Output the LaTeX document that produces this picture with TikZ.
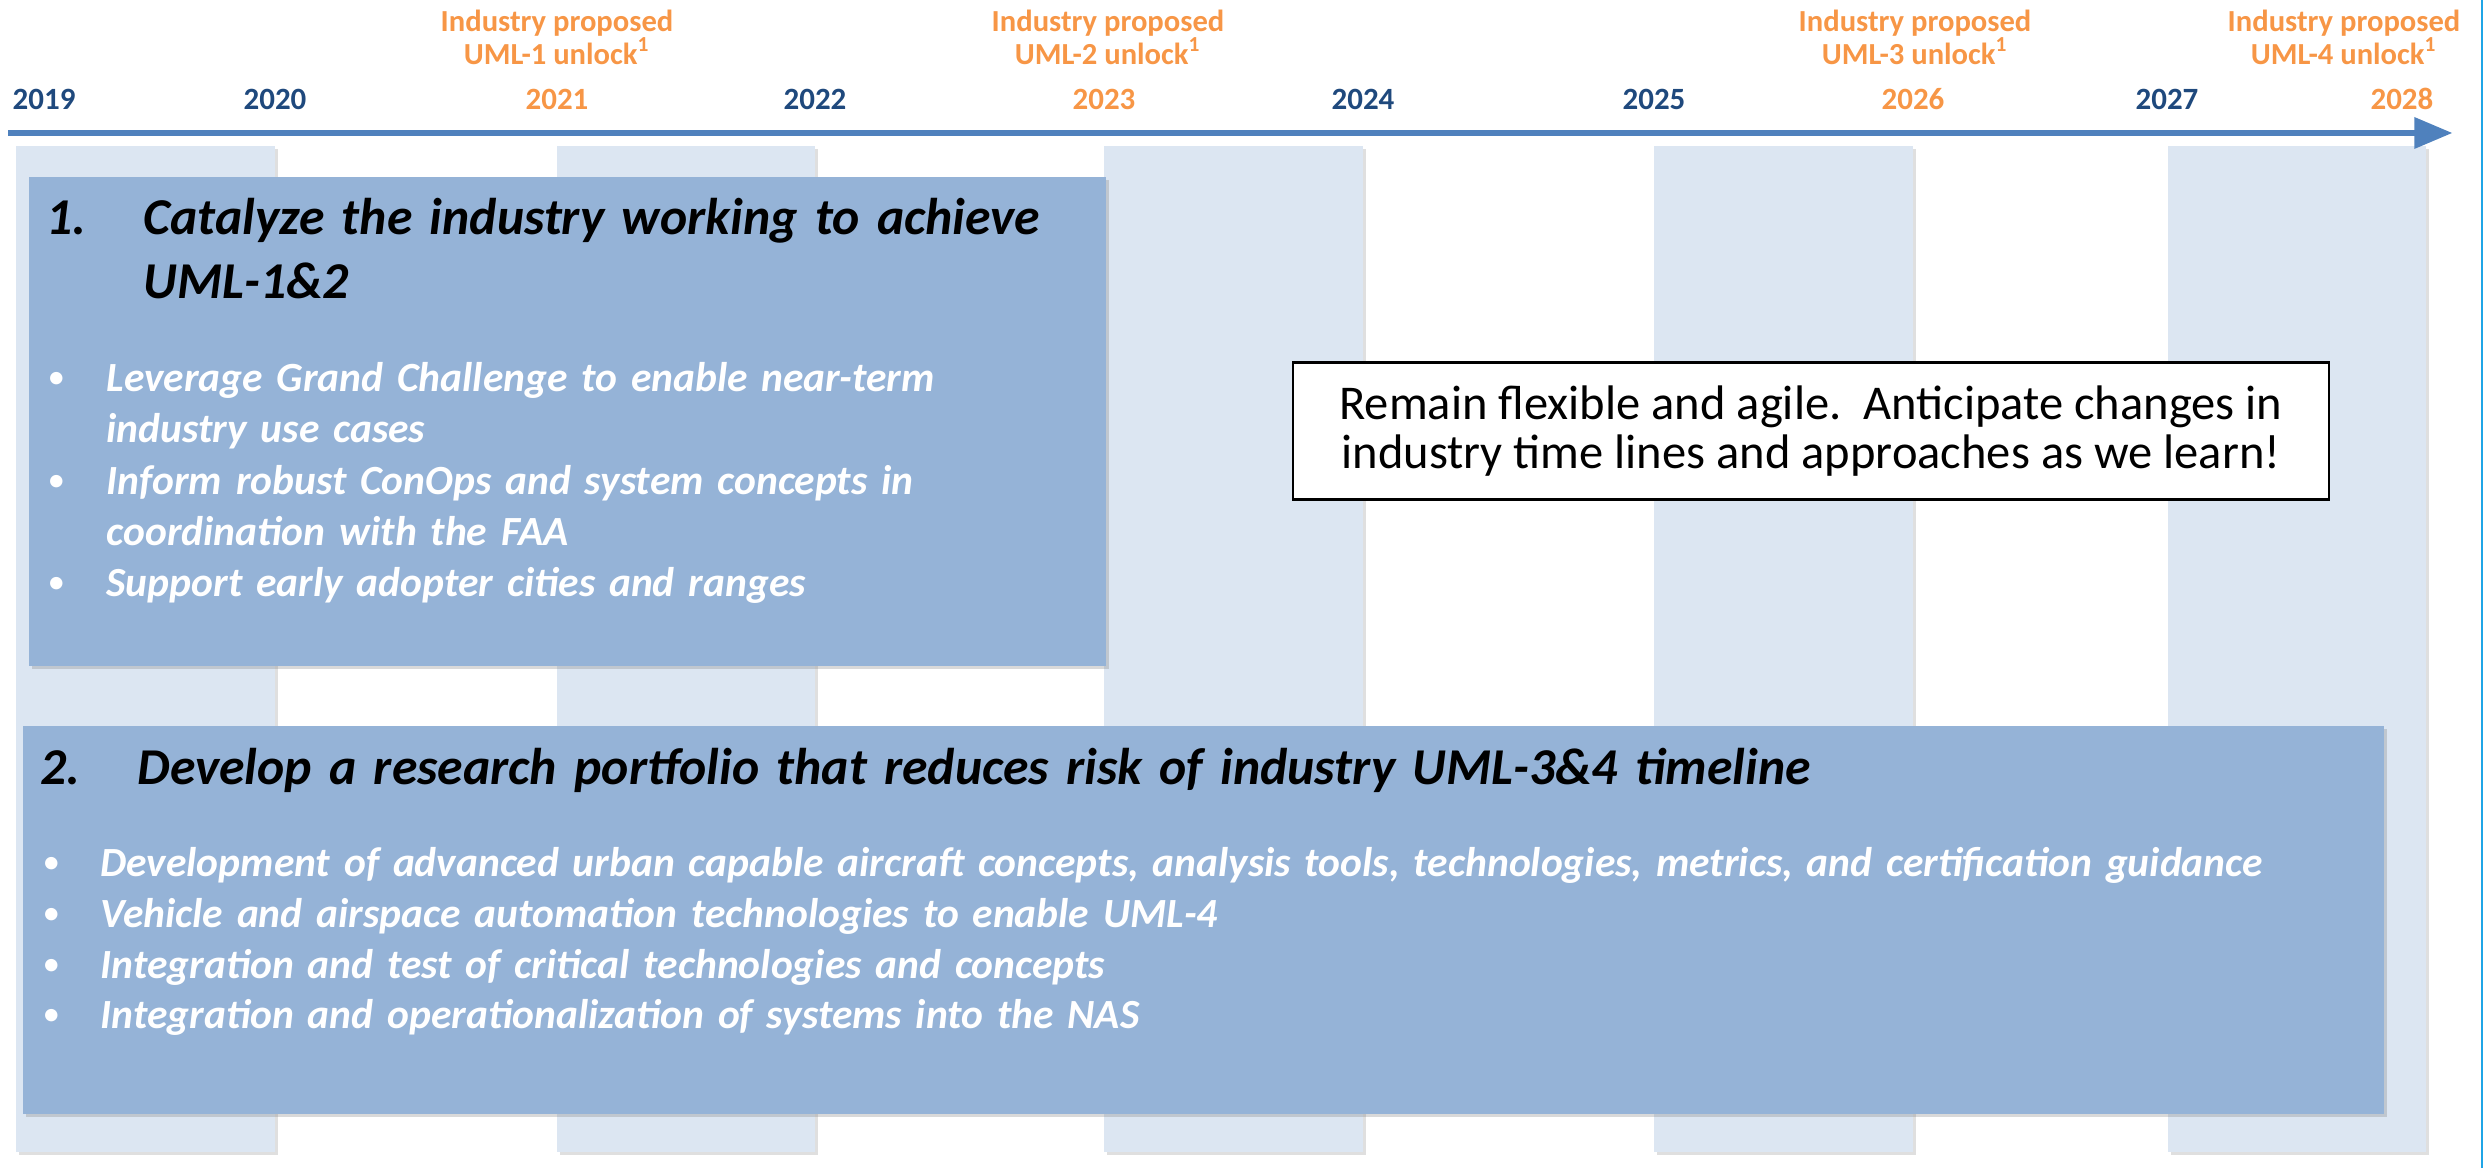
\documentclass[tikz,border=0pt]{standalone}
\usepackage{fontspec}
\setmainfont{Carlito}
\usepackage{tikz}
\usetikzlibrary{positioning}
\usetikzlibrary{arrows,shadows}
\definecolor{yearblue}{HTML}{1F497D}
\definecolor{unlockorange}{HTML}{F79646}
\definecolor{lineblue}{HTML}{4F81BD}
\definecolor{bandblue}{HTML}{DCE6F2}
\definecolor{goalblue}{HTML}{95B3D7}
\definecolor{edgecyan}{HTML}{1FA5E6}
\tikzstyle{timeline} = [line width=1.5pt,->,>=triangle 45,color=lineblue]
\tikzstyle{band} = [fill=bandblue,drop shadow={shadow xshift=0.8pt,shadow yshift=-0.8pt,opacity=0.25}]
\tikzstyle{goalbox} = [fill=goalblue,anchor=north west,inner sep=0pt,drop shadow={shadow xshift=0.8pt,shadow yshift=-0.8pt,opacity=0.3}]
\tikzstyle{notebox} = [draw=black,line width=0.6pt,fill=white,inner sep=0pt,align=center,font=\fontsize{13.8}{14}\selectfont]
\tikzstyle{yearlbl} = [anchor=base,inner sep=0pt,font=\fontsize{8.8}{10}\selectfont\bfseries]
\tikzstyle{unlocklbl} = [anchor=base,inner sep=0pt,text=unlockorange,font=\fontsize{8.7}{10}\selectfont\bfseries]
\tikzstyle{goaltitle} = [anchor=base west,inner sep=0pt,text width=22cm,align=left,font=\fontsize{14.7}{18.2}\selectfont\bfseries\itshape]
\tikzstyle{goalitem} = [anchor=base west,inner sep=0pt,text width=22cm,align=left,text=white,font=\fontsize{11.8}{14.5}\selectfont\bfseries\itshape]
\tikzstyle{dot} = [anchor=base west,inner sep=0pt,text=white,font=\fontsize{10}{12}\selectfont]

\begin{document}
\begin{tikzpicture}[x=0.01cm,y=-0.01cm]
	\useasboundingbox (0,0) rectangle (2484,1168);

	%Bands
	\path[band] (16,146) rectangle (275,1152);
	\path[band] (557,146) rectangle (815,1152);
	\path[band] (1104,146) rectangle (1363,1152);
	\path[band] (1654,146) rectangle (1913,1152);
	\path[band] (2168,146) rectangle (2426,1152);
	\draw[edgecyan,line width=0.6pt] (2482,0) -- (2482,1168);

	%Timeline
	\coordinate (tlstart) at (8,133);
	\coordinate (tlend) at (2452,133);
	\draw[timeline] (tlstart) -- (tlend);

	%Years
	\node[yearlbl,anchor=base west,text=yearblue] (y2019) at (12,110) {2019};
	\node[yearlbl,text=yearblue] (y2020) at (275,110) {2020};
	\node[yearlbl,text=unlockorange] (y2021) at (557,110) {2021};
	\node[yearlbl,text=yearblue] (y2022) at (815,110) {2022};
	\node[yearlbl,text=unlockorange] (y2023) at (1104,110) {2023};
	\node[yearlbl,text=yearblue] (y2024) at (1363,110) {2024};
	\node[yearlbl,text=yearblue] (y2025) at (1654,110) {2025};
	\node[yearlbl,text=unlockorange] (y2026) at (1913,110) {2026};
	\node[yearlbl,text=yearblue] (y2027) at (2167,110) {2027};
	\node[yearlbl,anchor=base east,text=unlockorange] (y2028) at (2434,110) {2028};

	%Unlocks
	\node[unlocklbl] (u2021) at (557,65) {UML-1 unlock\textsuperscript{1}};
	\node[unlocklbl] (ip2021) at (557,32) {Industry proposed};
	\node[unlocklbl] (u2023) at (1108,65) {UML-2 unlock\textsuperscript{1}};
	\node[unlocklbl] (ip2023) at (1108,32) {Industry proposed};
	\node[unlocklbl] (u2026) at (1915,65) {UML-3 unlock\textsuperscript{1}};
	\node[unlocklbl] (ip2026) at (1915,32) {Industry proposed};
	\node[unlocklbl] (u2028) at (2344,65) {UML-4 unlock\textsuperscript{1}};
	\node[unlocklbl] (ip2028) at (2344,32) {Industry proposed};

	%Goal 1
	\node[goalbox,minimum width=10.77cm,minimum height=4.89cm] (goal1) at (28,176) {};
	\node[goaltitle,text width=2cm] (g1num) at (46,235) {1.};
	\node[goaltitle] (g1title) at (143,235) {Catalyze the industry working to achieve\\UML-1\&2};
	\node[dot] (g1dota) at (47,389) {\textbullet};
	\node[goalitem] (g1a) at (106,392) {Leverage Grand Challenge to enable near-term\\industry use cases};
	\node[dot] (g1dotb) at (47,492) {\textbullet};
	\node[goalitem] (g1b) at (106,495) {Inform robust ConOps and system concepts in\\coordination with the FAA};
	\node[dot] (g1dotc) at (47,594) {\textbullet};
	\node[goalitem] (g1c) at (106,597) {Support early adopter cities and ranges};

	%Goal 2
	\node[goalbox,minimum width=23.60cm,minimum height=3.88cm] (goal2) at (22,725) {};
	\node[goaltitle,text width=2cm] (g2num) at (40,785) {2.};
	\node[goaltitle] (g2title) at (137,785) {Develop a research portfolio that reduces risk of industry UML-3\&4 timeline};
	\node[dot] (g2dota) at (42,874) {\textbullet};
	\node[goalitem] (g2a) at (100,877) {Development of advanced urban capable aircraft concepts, analysis tools, technologies, metrics, and certification guidance};
	\node[dot] (g2dotb) at (42,925) {\textbullet};
	\node[goalitem] (g2b) at (100,928) {Vehicle and airspace automation technologies to enable UML-4};
	\node[dot] (g2dotc) at (42,976) {\textbullet};
	\node[goalitem] (g2c) at (100,979) {Integration and test of critical technologies and concepts};
	\node[dot] (g2dotd) at (42,1026) {\textbullet};
	\node[goalitem] (g2d) at (100,1029) {Integration and operationalization of systems into the NAS};

	%Note
	\node[notebox,minimum width=10.36cm,minimum height=1.37cm] (note) at (1811,431) {Remain flexible and agile.\ \ Anticipate changes in\\industry time lines and approaches as we learn!};
\end{tikzpicture}
\end{document}
